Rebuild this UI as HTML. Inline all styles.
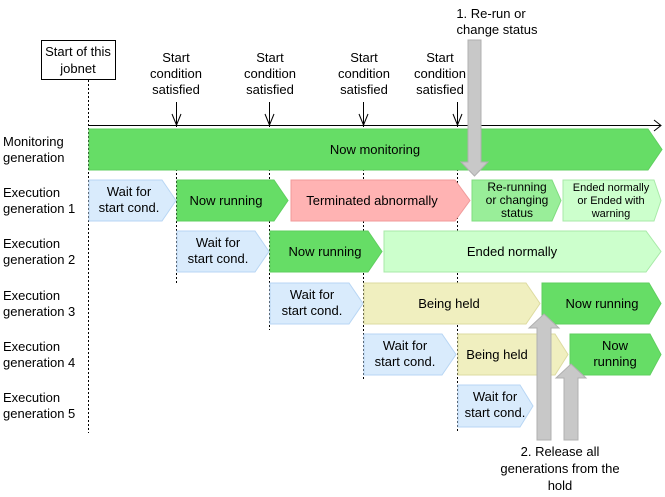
<!DOCTYPE html>
<html><head><meta charset="utf-8"><style>
body{margin:0;background:#fff}
svg{display:block;font-family:"Liberation Sans",Arial,sans-serif;font-size:13px}
</style></head><body>
<svg width="665" height="497" viewBox="0 0 665 497" xmlns="http://www.w3.org/2000/svg">
<g stroke="#000" stroke-width="1" stroke-dasharray="2,2">
<line x1="88.5" y1="80" x2="88.5" y2="433"/>
<line x1="176.5" y1="125" x2="176.5" y2="285"/>
<line x1="269.5" y1="125" x2="269.5" y2="330"/>
<line x1="363.5" y1="125" x2="363.5" y2="380"/>
<line x1="457.5" y1="125" x2="457.5" y2="433"/>
</g>
<line x1="88" y1="125.5" x2="660" y2="125.5" stroke="#000"/>
<polyline points="654,120 661,125.5 654,131" fill="none" stroke="#000"/>
<g stroke="#000" fill="none">
<line x1="176.5" y1="102" x2="176.5" y2="125"/><polyline points="172,114 176.5,125 181,114"/>
<line x1="269.5" y1="102" x2="269.5" y2="125"/><polyline points="265,114 269.5,125 274,114"/>
<line x1="363.5" y1="102" x2="363.5" y2="125"/><polyline points="359,114 363.5,125 368,114"/>
<line x1="457.5" y1="102" x2="457.5" y2="125"/><polyline points="453,114 457.5,125 462,114"/>
</g>
<rect x="41.5" y="40.5" width="74" height="39" fill="#fff" stroke="#000"/>
<text x="78" y="56" text-anchor="middle">Start of this</text>
<text x="78" y="73" text-anchor="middle">jobnet</text>
<g text-anchor="middle">
<text x="176" y="62">Start</text><text x="176" y="78">condition</text><text x="176" y="94">satisfied</text>
<text x="270" y="62">Start</text><text x="270" y="78">condition</text><text x="270" y="94">satisfied</text>
<text x="364" y="62">Start</text><text x="364" y="78">condition</text><text x="364" y="94">satisfied</text>
<text x="440" y="62">Start</text><text x="440" y="78">condition</text><text x="440" y="94">satisfied</text>
<text x="491" y="18">1. Re-run or</text><text x="497" y="34">change status</text>
<text x="560" y="456">2. Release all</text><text x="560" y="473">generations from the</text><text x="560" y="490">hold</text>
</g>
<g>
<text x="3" y="146">Monitoring</text><text x="3" y="162">generation</text>
<text x="3" y="197">Execution</text><text x="3" y="213">generation 1</text>
<text x="3" y="248">Execution</text><text x="3" y="264">generation 2</text>
<text x="3" y="300">Execution</text><text x="3" y="316">generation 3</text>
<text x="3" y="351">Execution</text><text x="3" y="367">generation 4</text>
<text x="3" y="402">Execution</text><text x="3" y="418">generation 5</text>
</g>
<!-- monitoring -->
<polygon points="89,129 648,129 662,149.5 648,170 89,170" fill="#66dd66" stroke="#5fcf5f"/>
<text x="375" y="154" text-anchor="middle">Now monitoring</text>
<!-- gen1 -->
<polygon points="89,180 162,180 176,200.5 162,221 89,221" fill="#d9ebfc" stroke="#b8d6f4"/>
<polygon points="177,180 274,180 288,200.5 274,221 177,221" fill="#66dd66" stroke="#5fcf5f"/>
<polygon points="291,180 455,180 470,200.5 455,221 291,221" fill="#ffb3b3" stroke="#f09a9a"/>
<polygon points="472,180 552,180 561,200.5 552,221 472,221" fill="#99ee99" stroke="#80dd80"/>
<polygon points="563,180 654,180 661,200.5 654,221 563,221" fill="#ccffcc" stroke="#a8eaa8"/>
<g text-anchor="middle">
<text x="129" y="196">Wait for</text><text x="129" y="212">start cond.</text>
<text x="226" y="205">Now running</text>
<text x="372" y="205">Terminated abnormally</text>
<text x="517" y="191" font-size="12">Re-running</text><text x="517" y="204" font-size="12">or changing</text><text x="517" y="217" font-size="12">status</text>
<text x="611" y="191" font-size="11">Ended normally</text><text x="611" y="204" font-size="11">or Ended with</text><text x="611" y="217" font-size="11">warning</text>
</g>
<!-- gen2 -->
<polygon points="177,231 255,231 269,251.5 255,272 177,272" fill="#d9ebfc" stroke="#b8d6f4"/>
<polygon points="270,231 368,231 382,251.5 368,272 270,272" fill="#66dd66" stroke="#5fcf5f"/>
<polygon points="384,231 646,231 661,251.5 646,272 384,272" fill="#ccffcc" stroke="#a8eaa8"/>
<g text-anchor="middle">
<text x="218" y="247">Wait for</text><text x="218" y="263">start cond.</text>
<text x="325" y="256">Now running</text>
<text x="512" y="256">Ended normally</text>
</g>
<!-- gen3 -->
<polygon points="270,283 349,283 363,303.5 349,324 270,324" fill="#d9ebfc" stroke="#b8d6f4"/>
<polygon points="364,283 526,283 540,303.5 526,324 364,324" fill="#f0efbf" stroke="#dddba0"/>
<polygon points="542,283 649,283 661,303.5 649,324 542,324" fill="#66dd66" stroke="#5fcf5f"/>
<g text-anchor="middle">
<text x="312" y="299">Wait for</text><text x="312" y="315">start cond.</text>
<text x="449" y="308">Being held</text>
<text x="602" y="308">Now running</text>
</g>
<!-- gen4 -->
<polygon points="364,334 442,334 456,354.5 442,375 364,375" fill="#d9ebfc" stroke="#b8d6f4"/>
<polygon points="458,334 555,334 568,354.5 555,375 458,375" fill="#f0efbf" stroke="#dddba0"/>
<polygon points="570,334 650,334 661,354.5 650,375 570,375" fill="#66dd66" stroke="#5fcf5f"/>
<g text-anchor="middle">
<text x="405" y="350">Wait for</text><text x="405" y="366">start cond.</text>
<text x="497" y="359">Being held</text>
<text x="615" y="350">Now</text><text x="615" y="366">running</text>
</g>
<!-- gen5 -->
<polygon points="458,385 520,385 533,406 520,427 458,427" fill="#d9ebfc" stroke="#b8d6f4"/>
<g text-anchor="middle"><text x="495" y="401">Wait for</text><text x="495" y="417">start cond.</text></g>
<!-- gray arrows -->
<polygon points="468,40 481,40 481,162 488,162 474.5,176 461,162 468,162" fill="#c8c8c8" stroke="#b0b0b0"/>
<polygon points="537,440 551,440 551,328 559,328 544,314 529,328 537,328" fill="#c8c8c8" stroke="#b0b0b0"/>
<polygon points="564,440 578,440 578,378 586,378 571,364 556,378 564,378" fill="#c8c8c8" stroke="#b0b0b0"/>
</svg>
</body></html>
